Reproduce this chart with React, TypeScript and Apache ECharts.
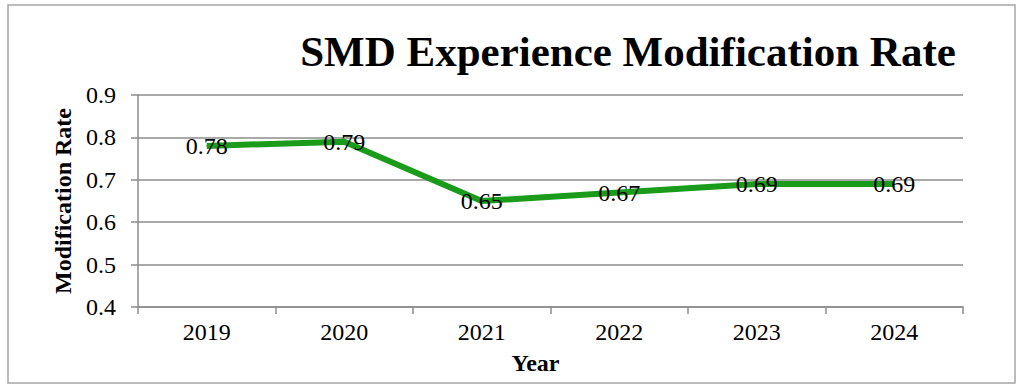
import React, { useEffect, useRef } from "react";
import * as echarts from "echarts";

const years = ["2019", "2020", "2021", "2022", "2023", "2024"];
const rates = [0.78, 0.79, 0.65, 0.67, 0.69, 0.69];
const titleText = "SMD Experience Modification Rate";
const xName = "Year";
const yName = "Modification Rate";

const SERIF = "'Liberation Serif', 'DejaVu Serif', serif";

export default function App() {
  const ref = useRef<HTMLDivElement>(null);
  useEffect(() => {
    document.body.style.margin = "0";
    const chart = echarts.init(ref.current!, undefined, { renderer: "svg" });
    chart.setOption({
      animation: false,
      backgroundColor: "#fff",
      title: {
        text: titleText,
        left: 623,
        top: 25,
        textAlign: "center",
        textStyle: { fontFamily: SERIF, fontWeight: "bold", fontSize: 43, color: "#000" },
      },
      graphic: [
        {
          type: "rect",
          shape: { x: 8, y: 5, width: 1007, height: 378 },
          style: { fill: "none", stroke: "#a6a6a6", lineWidth: 1.5 },
          silent: true,
        },
      ],
      grid: { left: 138, right: 61, top: 95, bottom: 84 },
      xAxis: {
        type: "category",
        data: years,
        boundaryGap: true,
        name: xName,
        nameLocation: "middle",
        nameGap: 44,
        nameTextStyle: { fontFamily: SERIF, fontWeight: "bold", fontSize: 24, color: "#000", padding: [0, 30, 0, 0] },
        axisLine: { lineStyle: { color: "#8c8c8c", width: 1.5 } },
        axisTick: { show: true, alignWithLabel: false, length: 7, lineStyle: { color: "#8c8c8c", width: 1.5 } },
        axisLabel: { fontFamily: SERIF, fontSize: 24, color: "#000", margin: 13 },
      },
      yAxis: {
        type: "value",
        min: 0.4,
        max: 0.9,
        interval: 0.1,
        name: yName,
        nameLocation: "middle",
        nameGap: 62,
        nameTextStyle: { fontFamily: SERIF, fontWeight: "bold", fontSize: 24, color: "#000" },
        axisLine: { show: true, lineStyle: { color: "#8c8c8c", width: 1.5 } },
        axisTick: { show: true, length: 7, lineStyle: { color: "#8c8c8c", width: 1.5 } },
        splitLine: { lineStyle: { color: "#8c8c8c", width: 1.5 } },
        axisLabel: {
          fontFamily: SERIF,
          fontSize: 24,
          color: "#000",
          margin: 22,
          formatter: (v: number) => v.toFixed(1),
        },
      },
      series: [
        {
          type: "line",
          data: rates,
          symbol: "circle",
          symbolSize: 1,
          showSymbol: true,
          itemStyle: { color: "#1a9c1a" },
          lineStyle: { color: "#1a9c1a", width: 6 },
          label: {
            show: true,
            position: "inside",
            offset: [0, 0],
            fontFamily: SERIF,
            fontSize: 24,
            color: "#000",
            formatter: (p: any) => p.value.toFixed(2),
          },
        },
      ],
    });
    return () => chart.dispose();
  }, []);
  return <div ref={ref} style={{ width: 1024, height: 391 }} />;
}
